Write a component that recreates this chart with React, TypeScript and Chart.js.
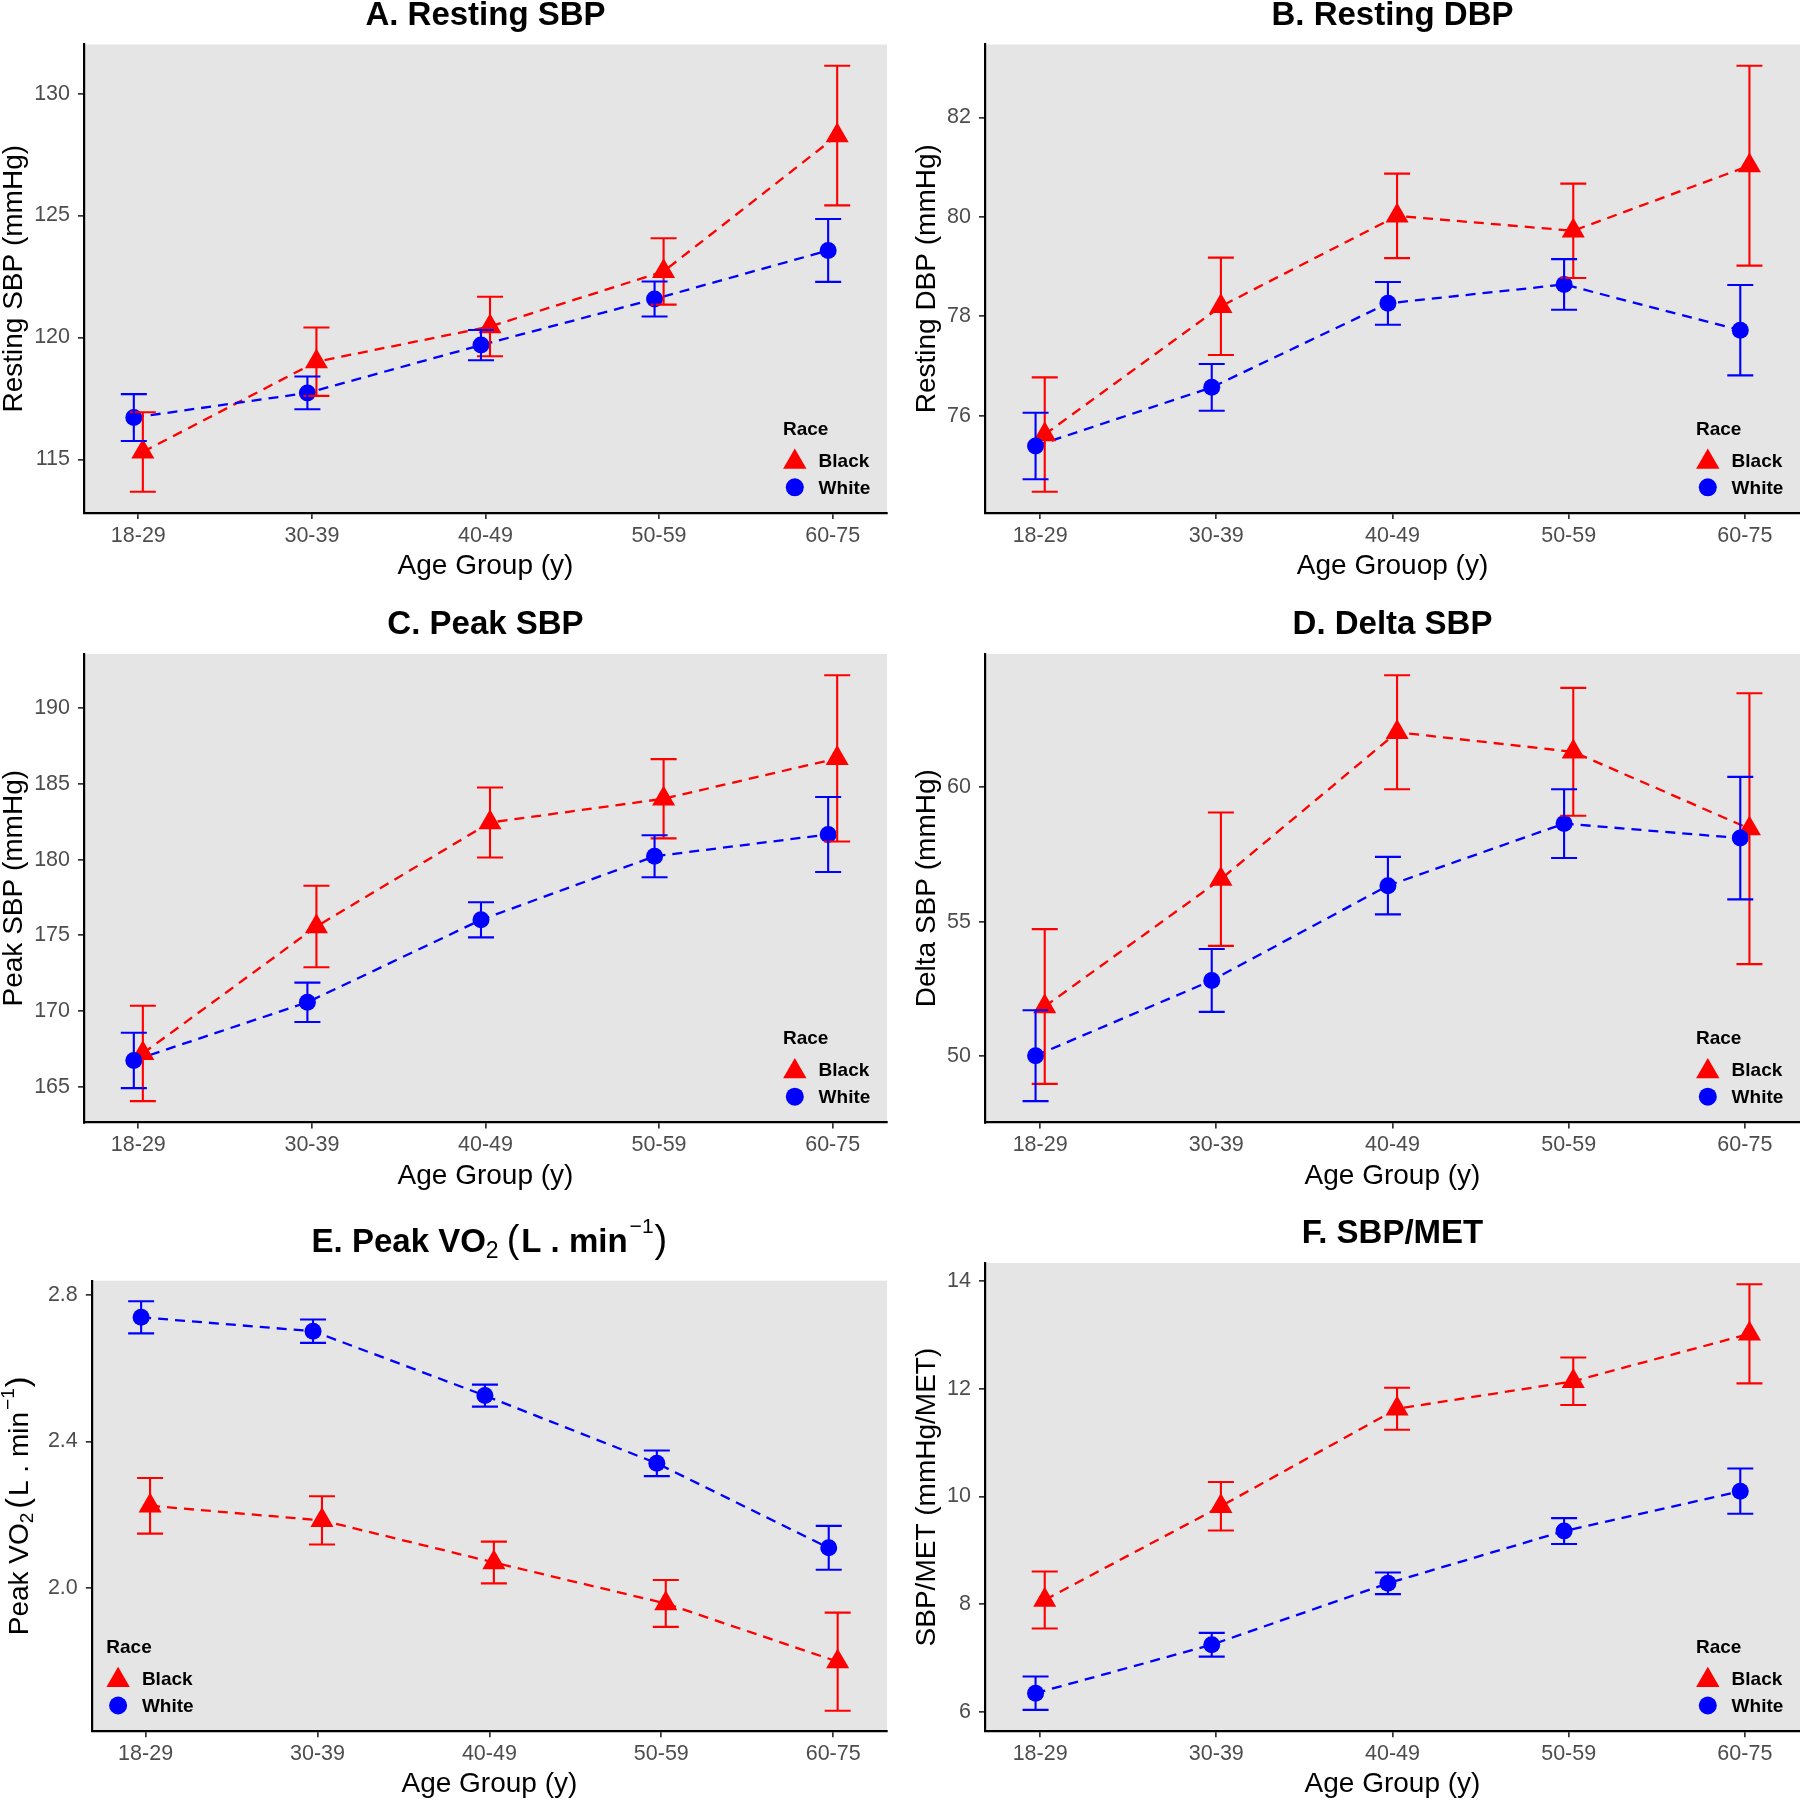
import React, { useEffect, useRef } from "react";
import { Chart, registerables } from "chart.js";

Chart.register(...registerables);

const FAMILY = "'Liberation Sans', Arial, Helvetica, sans-serif";
const RED = "#FF0000";
const BLUE = "#0000FF";
const PANEL_BG = "#E5E5E5";

// ---------------- data ----------------
const ageGroups = ["18-29", "30-39", "40-49", "50-59", "60-75"];
const raceLabels = ["Black", "White"];
const legendTitle = "Race";

// A. Resting SBP
const restSbpBlack = [115.31, 119.01, 120.45, 122.71, 128.28];
const restSbpBlackErr = [1.63, 1.4, 1.22, 1.36, 2.86];
const restSbpWhite = [116.72, 117.73, 119.69, 121.58, 123.57];
const restSbpWhiteErr = [0.96, 0.67, 0.62, 0.72, 1.29];
const restSbpTicks = [115, 120, 125, 130];

// B. Resting DBP
const restDbpBlack = [75.62, 78.2, 80.02, 79.72, 81.03];
const restDbpBlackErr = [1.15, 0.98, 0.85, 0.95, 2.01];
const restDbpWhite = [75.39, 76.57, 78.26, 78.64, 77.72];
const restDbpWhiteErr = [0.67, 0.47, 0.43, 0.51, 0.91];
const restDbpTicks = [76, 78, 80, 82];

// C. Peak SBP
const peakSbpBlack = [167.19, 175.58, 182.45, 184.02, 186.69];
const peakSbpBlackErr = [3.15, 2.69, 2.31, 2.62, 5.49];
const peakSbpWhite = [166.73, 170.57, 176.02, 180.22, 181.66];
const peakSbpWhiteErr = [1.83, 1.3, 1.16, 1.39, 2.48];
const peakSbpTicks = [165, 170, 175, 180, 185, 190];

// D. Delta SBP
const deltaSbpBlack = [51.84, 56.58, 62.05, 61.32, 58.46];
const deltaSbpBlackErr = [2.88, 2.48, 2.12, 2.38, 5.04];
const deltaSbpWhite = [50.01, 52.81, 56.34, 58.65, 58.11];
const deltaSbpWhiteErr = [1.69, 1.17, 1.07, 1.28, 2.28];
const deltaSbpTicks = [50, 55, 60];

// E. Peak VO2
const peakVo2Black = [2.224, 2.184, 2.069, 1.957, 1.798];
const peakVo2BlackErr = [0.076, 0.066, 0.057, 0.064, 0.134];
const peakVo2White = [2.739, 2.701, 2.525, 2.34, 2.109];
const peakVo2WhiteErr = [0.044, 0.032, 0.03, 0.035, 0.06];
const peakVo2Ticks = [2.0, 2.4, 2.8];

// F. SBP/MET
const sbpMetBlack = [8.08, 9.82, 11.63, 12.14, 13.02];
const sbpMetBlackErr = [0.53, 0.45, 0.39, 0.44, 0.92];
const sbpMetWhite = [6.35, 7.25, 8.39, 9.36, 10.1];
const sbpMetWhiteErr = [0.31, 0.22, 0.2, 0.24, 0.42];
const sbpMetTicks = [6, 8, 10, 12, 14];

// ---------------- layout helpers ----------------
const X_MIN = -0.313;
const X_MAX = 4.313;
const DODGE = 0.026;
const CANVAS_W = 900;
const CANVAS_H = 600;
const TICK_FONT = 21.5;

type Seg = { t: string; size: number; bold?: boolean; dy?: number; gap?: number };

interface PanelCfg {
  id: string;
  title: Seg[];
  titleGap: number;
  yTitle: string;
  yTitleRich?: Seg[];
  yTitleShift: number;
  xTitle: string;
  black: number[];
  blackErr: number[];
  white: number[];
  whiteErr: number[];
  yTicks: number[];
  decimals: number;
  left: number;
  top: number;
  chartLeft: number;
  chartTop: number;
  chartRight: number;
  chartBottom: number;
  xTitlePad: number;
  legendSide: "left" | "right";
}

function drawRich(ctx: CanvasRenderingContext2D, segs: Seg[], cx: number, cy: number, rotate: boolean) {
  const fontOf = (s: Seg) => `${s.bold ? "bold " : ""}${s.size}px ${FAMILY}`;
  const widths = segs.map((s) => {
    ctx.font = fontOf(s);
    return ctx.measureText(s.t).width;
  });
  const total = widths.reduce((a, b) => a + b, 0) + segs.reduce((a, s) => a + (s.gap || 0), 0);
  ctx.save();
  ctx.translate(cx, cy);
  if (rotate) ctx.rotate(-Math.PI / 2);
  ctx.fillStyle = "#000000";
  ctx.textAlign = "left";
  ctx.textBaseline = "alphabetic";
  let x = -total / 2;
  segs.forEach((s, i) => {
    x += s.gap || 0;
    ctx.font = fontOf(s);
    ctx.fillText(s.t, x, s.dy || 0);
    x += widths[i];
  });
  ctx.restore();
}

function drawTriangle(ctx: CanvasRenderingContext2D, x: number, y: number, r: number, color: string) {
  ctx.beginPath();
  for (let k = 0; k < 3; k++) {
    const a = (k * 2 * Math.PI) / 3;
    const px = x + Math.sin(a) * r;
    const py = y - Math.cos(a) * r;
    if (k === 0) ctx.moveTo(px, py);
    else ctx.lineTo(px, py);
  }
  ctx.closePath();
  ctx.fillStyle = color;
  ctx.fill();
}

function drawCircle(ctx: CanvasRenderingContext2D, x: number, y: number, r: number, color: string) {
  ctx.beginPath();
  ctx.arc(x, y, r, 0, Math.PI * 2);
  ctx.fillStyle = color;
  ctx.fill();
}

function yRange(cfg: PanelCfg): [number, number] {
  const lows = [
    ...cfg.black.map((v, i) => v - cfg.blackErr[i]),
    ...cfg.white.map((v, i) => v - cfg.whiteErr[i]),
  ];
  const highs = [
    ...cfg.black.map((v, i) => v + cfg.blackErr[i]),
    ...cfg.white.map((v, i) => v + cfg.whiteErr[i]),
  ];
  const lo = Math.min(...lows);
  const hi = Math.max(...highs);
  const pad = (hi - lo) * 0.05;
  return [lo - pad, hi + pad];
}

function buildConfig(cfg: PanelCfg): any {
  const [yMin, yMax] = yRange(cfg);
  const series = [
    { values: cfg.black, err: cfg.blackErr, color: RED, dodge: DODGE },
    { values: cfg.white, err: cfg.whiteErr, color: BLUE, dodge: -DODGE },
  ];

  const bgPlugin = {
    id: "panelBg" + cfg.id,
    beforeDraw(chart: any) {
      const { ctx, chartArea: a } = chart;
      ctx.save();
      ctx.fillStyle = PANEL_BG;
      ctx.fillRect(a.left, a.top, a.right - a.left, a.bottom - a.top);
      ctx.restore();
    },
  };

  const errPlugin = {
    id: "errBars" + cfg.id,
    afterDatasetsDraw(chart: any) {
      const { ctx } = chart;
      const xs = chart.scales.x;
      const ys = chart.scales.y;
      ctx.save();
      ctx.setLineDash([]);
      ctx.lineWidth = 2.1;
      series.forEach((s) => {
        ctx.strokeStyle = s.color;
        s.values.forEach((v, i) => {
          const px = xs.getPixelForValue(i + s.dodge);
          const t = ys.getPixelForValue(v + s.err[i]);
          const b = ys.getPixelForValue(v - s.err[i]);
          ctx.beginPath();
          ctx.moveTo(px, t);
          ctx.lineTo(px, b);
          ctx.moveTo(px - 13, t);
          ctx.lineTo(px + 13, t);
          ctx.moveTo(px - 13, b);
          ctx.lineTo(px + 13, b);
          ctx.stroke();
        });
      });
      ctx.restore();
    },
  };

  const decorPlugin = {
    id: "decor" + cfg.id,
    afterDraw(chart: any) {
      const { ctx, chartArea: a } = chart;
      drawRich(ctx, cfg.title, (a.left + a.right) / 2, a.top - cfg.titleGap, false);
      if (cfg.yTitleRich) {
        drawRich(ctx, cfg.yTitleRich, 28.3, (a.top + a.bottom) / 2, true);
      }
      const ax = cfg.legendSide === "right" ? a.right - 104 : a.left + 14.5;
      const b = a.bottom;
      ctx.save();
      ctx.fillStyle = "#000000";
      ctx.font = `bold 19px ${FAMILY}`;
      ctx.textAlign = "left";
      ctx.textBaseline = "middle";
      ctx.fillText(legendTitle, ax, b - 83.3);
      drawTriangle(ctx, ax + 11.8, b - 51, 13.5, RED);
      drawCircle(ctx, ax + 11.8, b - 25.7, 9, BLUE);
      ctx.fillStyle = "#000000";
      ctx.fillText(raceLabels[0], ax + 35.6, b - 51.3);
      ctx.fillText(raceLabels[1], ax + 35.6, b - 24.7);
      ctx.restore();
    },
  };

  const lineDs = (vals: number[], color: string, dodge: number, order: number, label: string) => ({
    label,
    data: vals.map((v, i) => ({ x: i + dodge, y: v })),
    borderColor: color,
    backgroundColor: color,
    borderWidth: 2.3,
    borderDash: [10, 7],
    pointRadius: 0,
    fill: false,
    tension: 0,
    order,
  });
  const pointDs = (vals: number[], color: string, dodge: number, style: string, r: number, order: number, label: string) => ({
    label,
    data: vals.map((v, i) => ({ x: i + dodge, y: v })),
    showLine: false,
    pointStyle: style,
    pointRadius: r,
    pointBackgroundColor: color,
    pointBorderColor: color,
    pointBorderWidth: 0,
    order,
  });

  return {
    type: "line",
    data: {
      datasets: [
        lineDs(cfg.black, RED, DODGE, 4, raceLabels[0] + " line"),
        lineDs(cfg.white, BLUE, -DODGE, 3, raceLabels[1] + " line"),
        pointDs(cfg.black, RED, DODGE, "triangle", 13.3, 2, raceLabels[0]),
        pointDs(cfg.white, BLUE, -DODGE, "circle", 8.5, 1, raceLabels[1]),
      ],
    },
    options: {
      animation: false,
      responsive: false,
      devicePixelRatio: 1,
      events: [],
      layout: {
        autoPadding: false,
        padding: {
          left: 0,
          top: cfg.chartTop,
          right: CANVAS_W - cfg.chartRight,
          bottom: 0,
        },
      },
      plugins: {
        legend: { display: false },
        tooltip: { enabled: false },
        title: { display: false },
      },
      scales: {
        x: {
          type: "linear",
          min: X_MIN,
          max: X_MAX,
          bounds: "data",
          afterBuildTicks: (s: any) => {
            s.ticks = ageGroups.map((_, i) => ({ value: i }));
          },
          afterFit: (s: any) => {
            s.height = CANVAS_H - cfg.chartBottom;
            s.paddingLeft = 0;
            s.paddingRight = 0;
          },
          ticks: {
            callback: (v: any) => ageGroups[Math.round(Number(v))] ?? "",
            font: { family: FAMILY, size: TICK_FONT, lineHeight: 1 },
            color: "#4D4D4D",
            padding: 6,
            maxRotation: 0,
            minRotation: 0,
            autoSkip: false,
          },
          grid: {
            drawOnChartArea: false,
            drawTicks: true,
            tickLength: 6,
            tickWidth: 1.7,
            lineWidth: 1.7,
            tickColor: "#333333",
          },
          border: { display: true, color: "#000000", width: 2.2 },
          title: {
            display: true,
            text: cfg.xTitle,
            font: { family: FAMILY, size: 28, lineHeight: 1 },
            color: "#000000",
            padding: { top: 0, bottom: cfg.xTitlePad },
          },
        },
        y: {
          type: "linear",
          min: yMin,
          max: yMax,
          bounds: "data",
          afterBuildTicks: (s: any) => {
            s.ticks = cfg.yTicks.map((v) => ({ value: v }));
          },
          afterFit: (s: any) => {
            s.width = cfg.chartLeft;
          },
          ticks: {
            callback: (v: any) => (cfg.decimals > 0 ? Number(v).toFixed(cfg.decimals) : String(v)),
            font: { family: FAMILY, size: TICK_FONT, lineHeight: 1 },
            color: "#4D4D4D",
            padding: 8,
          },
          grid: {
            drawOnChartArea: false,
            drawTicks: true,
            tickLength: 6,
            tickWidth: 1.7,
            lineWidth: 1.7,
            tickColor: "#333333",
          },
          border: { display: true, color: "#000000", width: 2.2 },
          title: {
            display: !cfg.yTitleRich,
            text: cfg.yTitle,
            font: { family: FAMILY, size: 28, lineHeight: 1 },
            color: "#000000",
            padding: { top: cfg.yTitleShift, bottom: 0 },
          },
        },
      },
    },
    plugins: [bgPlugin, errPlugin, decorPlugin],
  };
}

const plainTitle = (t: string): Seg[] => [{ t, size: 33, bold: true }];

const panels: PanelCfg[] = [
  {
    id: "A",
    title: plainTitle("A. Resting SBP"),
    titleGap: 20,
    yTitle: "Resting SBP (mmHg)",
    yTitleShift: 0,
    xTitle: "Age Group (y)",
    black: restSbpBlack,
    blackErr: restSbpBlackErr,
    white: restSbpWhite,
    whiteErr: restSbpWhiteErr,
    yTicks: restSbpTicks,
    decimals: 0,
    left: 0,
    top: 0,
    chartLeft: 84,
    chartTop: 44.5,
    chartRight: 887,
    chartBottom: 513,
    xTitlePad: 19.5,
    legendSide: "right",
  },
  {
    id: "B",
    title: plainTitle("B. Resting DBP"),
    titleGap: 20,
    yTitle: "Resting DBP (mmHg)",
    yTitleShift: 13,
    xTitle: "Age Grouop (y)",
    black: restDbpBlack,
    blackErr: restDbpBlackErr,
    white: restDbpWhite,
    whiteErr: restDbpWhiteErr,
    yTicks: restDbpTicks,
    decimals: 0,
    left: 900,
    top: 0,
    chartLeft: 85,
    chartTop: 44.5,
    chartRight: 900,
    chartBottom: 513,
    xTitlePad: 19.5,
    legendSide: "right",
  },
  {
    id: "C",
    title: plainTitle("C. Peak SBP"),
    titleGap: 20,
    yTitle: "Peak SBP (mmHg)",
    yTitleShift: 0,
    xTitle: "Age Group (y)",
    black: peakSbpBlack,
    blackErr: peakSbpBlackErr,
    white: peakSbpWhite,
    whiteErr: peakSbpWhiteErr,
    yTicks: peakSbpTicks,
    decimals: 0,
    left: 0,
    top: 600,
    chartLeft: 84,
    chartTop: 54,
    chartRight: 887,
    chartBottom: 522.4,
    xTitlePad: 10.1,
    legendSide: "right",
  },
  {
    id: "D",
    title: plainTitle("D. Delta SBP"),
    titleGap: 20,
    yTitle: "Delta SBP (mmHg)",
    yTitleShift: 13,
    xTitle: "Age Group (y)",
    black: deltaSbpBlack,
    blackErr: deltaSbpBlackErr,
    white: deltaSbpWhite,
    whiteErr: deltaSbpWhiteErr,
    yTicks: deltaSbpTicks,
    decimals: 0,
    left: 900,
    top: 600,
    chartLeft: 85,
    chartTop: 54,
    chartRight: 900,
    chartBottom: 522.4,
    xTitlePad: 10.1,
    legendSide: "right",
  },
  {
    id: "E",
    title: [
      { t: "E. Peak VO", size: 33, bold: true },
      { t: "2", size: 23, dy: 6 },
      { t: "(", size: 38, gap: 8 },
      { t: "L . min", size: 33, bold: true, gap: 2 },
      { t: "\u22121", size: 21, dy: -19, gap: 2 },
      { t: ")", size: 38, gap: 1 },
    ],
    titleGap: 28.4,
    yTitle: "Peak VO\u2082 (L . min\u207B\u00B9)",
    yTitleRich: [
      { t: "Peak VO", size: 28 },
      { t: "2", size: 19, dy: 5 },
      { t: "(", size: 32, gap: 4 },
      { t: "L . min", size: 28, gap: 2 },
      { t: "\u22121", size: 19, dy: -14, gap: 2 },
      { t: ")", size: 32, gap: 1 },
    ],
    yTitleShift: 0,
    xTitle: "Age Group (y)",
    black: peakVo2Black,
    blackErr: peakVo2BlackErr,
    white: peakVo2White,
    whiteErr: peakVo2WhiteErr,
    yTicks: peakVo2Ticks,
    decimals: 1,
    left: 0,
    top: 1200,
    chartLeft: 91.8,
    chartTop: 80.7,
    chartRight: 887,
    chartBottom: 531.2,
    xTitlePad: 1.3,
    legendSide: "left",
  },
  {
    id: "F",
    title: plainTitle("F. SBP/MET"),
    titleGap: 20,
    yTitle: "SBP/MET (mmHg/MET)",
    yTitleShift: 13,
    xTitle: "Age Group (y)",
    black: sbpMetBlack,
    blackErr: sbpMetBlackErr,
    white: sbpMetWhite,
    whiteErr: sbpMetWhiteErr,
    yTicks: sbpMetTicks,
    decimals: 0,
    left: 900,
    top: 1200,
    chartLeft: 85,
    chartTop: 63,
    chartRight: 900,
    chartBottom: 531.2,
    xTitlePad: 1.3,
    legendSide: "right",
  },
];

function Panel({ cfg }: { cfg: PanelCfg }) {
  const ref = useRef<HTMLCanvasElement | null>(null);
  useEffect(() => {
    if (!ref.current) return;
    const chart = new Chart(ref.current, buildConfig(cfg));
    return () => chart.destroy();
  }, [cfg]);
  return (
    <canvas
      ref={ref}
      width={CANVAS_W}
      height={CANVAS_H}
      style={{
        position: "absolute",
        left: cfg.left,
        top: cfg.top,
        width: CANVAS_W,
        height: CANVAS_H,
        display: "block",
      }}
    />
  );
}

export default function App() {
  return (
    <div
      style={{
        position: "absolute",
        left: 0,
        top: 0,
        width: 1800,
        height: 1800,
        background: "#FFFFFF",
        overflow: "hidden",
      }}
    >
      {panels.map((p) => (
        <Panel key={p.id} cfg={p} />
      ))}
    </div>
  );
}
